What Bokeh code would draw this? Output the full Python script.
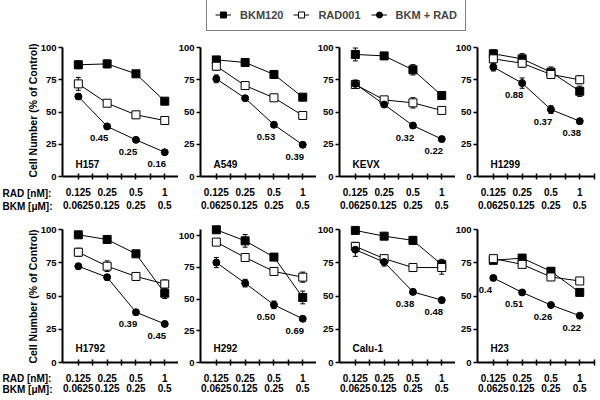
import math
from bokeh.plotting import figure
from bokeh.models import (ColumnDataSource, Range1d, LinearAxis, FixedTicker,
                          Whisker, TeeHead, Label, Legend, LegendItem)
from bokeh.layouts import column, row
from bokeh.embed import file_html
from bokeh.resources import INLINE
from bokeh.core.properties import value

# ---------------- data ----------------
cell_lines = ["H157", "A549", "KEVX", "H1299", "H1792", "H292", "Calu-1", "H23"]
rad_doses = ["0.125", "0.25", "0.5", "1"]        # RAD001 [nM]
bkm_doses = ["0.0625", "0.125", "0.25", "0.5"]   # BKM120 [uM]

bkm120 = {
    "H157": [86.6, 87.3, 79.6, 58.4],
    "A549": [90.4, 88.4, 79.1, 61.5],
    "KEVX": [94.6, 93.5, 82.7, 62.8],
    "H1299": [95.1, 91.2, 80.9, 66.1],
    "H1792": [96.0, 92.5, 81.7, 52.1],
    "H292": [104.5, 95.8, 83.0, 51.2],
    "Calu-1": [99.3, 95.0, 91.8, 73.6],
    "H23": [76.8, 78.5, 68.6, 52.7],
}
bkm120_err = {
    "H157": [3, 3, 2, 2], "A549": [2, 2, 2, 2], "KEVX": [5, 2, 4, 3], "H1299": [3, 4, 4, 4],
    "H1792": [2, 2, 2, 4], "H292": [2, 5, 2, 5], "Calu-1": [2, 2, 3, 4], "H23": [2, 2, 2, 2],
}
rad001 = {
    "H157": [71.8, 56.8, 47.8, 43.4],
    "A549": [85.5, 70.5, 61.0, 47.3],
    "KEVX": [71.3, 59.4, 57.1, 51.2],
    "H1299": [91.2, 87.8, 79.1, 75.0],
    "H1792": [82.9, 72.4, 64.7, 59.0],
    "H292": [94.8, 82.7, 71.7, 67.2],
    "Calu-1": [87.3, 78.1, 71.4, 71.4],
    "H23": [78.1, 73.8, 64.3, 61.3],
}
rad001_err = {
    "H157": [5, 2, 2, 1], "A549": [3, 2, 2, 2], "KEVX": [3, 2, 4, 2], "H1299": [3, 3, 3, 3],
    "H1792": [3, 4, 2, 3], "H292": [2, 2, 2, 4], "Calu-1": [3, 2, 3, 5], "H23": [2, 2, 2, 2],
}
combo = {
    "H157": [62.0, 38.8, 28.4, 18.8],
    "A549": [75.7, 60.7, 40.1, 24.6],
    "KEVX": [71.8, 55.8, 39.5, 29.0],
    "H1299": [84.8, 72.4, 51.9, 42.9],
    "H1792": [72.4, 64.1, 37.8, 29.0],
    "H292": [78.7, 62.5, 45.4, 34.4],
    "Calu-1": [84.8, 75.5, 53.1, 46.9],
    "H23": [63.6, 52.7, 43.2, 35.2],
}
combo_err = {
    "H157": [2, 1, 1, 1], "A549": [3, 2, 2, 2], "KEVX": [3, 2, 2, 2], "H1299": [3, 4, 3, 2],
    "H1792": [2, 2, 2, 1], "H292": [4, 3, 3, 2], "Calu-1": [5, 3, 2, 2], "H23": [1, 1, 1, 1],
}
# combination index values shown next to the BKM + RAD points
ci = {
    "H157": ["", "0.45", "0.25", "0.16"],
    "A549": ["", "", "0.53", "0.39"],
    "KEVX": ["", "", "0.32", "0.22"],
    "H1299": ["", "0.88", "0.37", "0.38"],
    "H1792": ["", "", "0.39", "0.45"],
    "H292": ["", "", "0.50", "0.69"],
    "Calu-1": ["", "", "0.38", "0.48"],
    "H23": ["0.4", "0.51", "0.26", "0.22"],
}
y_ticks = [0, 25, 50, 75, 100]
axis_top = {"H292": 105}   # y axis line end (others 100)

series_names = ["BKM120", "RAD001", "BKM + RAD"]

# ---------------- layout / style ----------------
FONT = "Liberation Sans"
X0, X1 = -0.55, 3.5            # x axis extent in dose-index units
SX = 28.8                      # px per dose step
COL_LEFT = [0, 178, 316, 455]  # left edge of each column figure (px)
COL_W = [178, 138, 139, 145]
AXIS_X = [62, 200, 339, 477]   # y-axis position in page px
ROWS = [
    dict(h=181, zero=142, sy=1.29, sy_tall=1.29, s2=24, name_dy=12, lab_dy=(17, 30)),
    dict(h=185, zero=147, sy=1.33, sy_tall=1.27, s2=21, name_dy=14, lab_dy=(16, 27)),
]


def style_text_axis(ax, size="10px"):
    ax.major_label_text_font = FONT
    ax.major_label_text_font_style = "bold"
    ax.major_label_text_font_size = size
    ax.major_label_text_color = "black"


def make_panel(k, name):
    col = k % 4
    rw = ROWS[0] if k < 4 else ROWS[1]
    W, H = COL_W[col], rw["h"]
    left = AXIS_X[col] - COL_LEFT[col]
    b = H - rw["zero"]
    ytop = axis_top.get(name, 100)
    sy = rw["sy"] if ytop == 100 else rw["sy_tall"]
    x_start = X0 - left / SX
    y_start = -b / sy
    p = figure(width=W, height=H,
               x_range=Range1d(x_start, x_start + W / SX),
               y_range=Range1d(y_start, y_start + H / sy),
               x_axis_type=None, y_axis_type=None,
               output_backend="svg", toolbar_location=None, min_border=0)
    p.outline_line_color = None
    p.background_fill_color = "white"
    p.border_fill_color = "white"

    xs = list(range(len(rad_doses)))

    # x axis with RAD doses
    xa = LinearAxis(fixed_location=0, bounds=(X0, X1),
                    ticker=FixedTicker(ticks=xs, minor_ticks=[0.5, 1.5, 2.5, 3.5]),
                    major_label_overrides={i: s for i, s in zip(xs, rad_doses)})
    xa.axis_line_width = 2
    xa.major_tick_in = 3
    xa.major_tick_out = 3
    xa.minor_tick_in = 3
    xa.minor_tick_out = 3
    xa.major_tick_line_width = 1.5
    xa.minor_tick_line_width = 1.5
    xa.major_label_standoff = 8
    style_text_axis(xa)
    p.add_layout(xa, "below")

    # second row of labels with BKM doses
    xb = LinearAxis(fixed_location=0, bounds=(X0, X1),
                    ticker=FixedTicker(ticks=xs, minor_ticks=[]),
                    major_label_overrides={i: s for i, s in zip(xs, bkm_doses)})
    xb.axis_line_color = None
    xb.major_tick_line_color = None
    xb.minor_tick_line_color = None
    xb.major_tick_in = 0
    xb.major_tick_out = 0
    xb.minor_tick_in = 0
    xb.minor_tick_out = 0
    xb.major_label_standoff = rw["s2"]
    style_text_axis(xb)
    p.add_layout(xb, "below")

    ya = LinearAxis(fixed_location=X0, bounds=(0, ytop),
                    ticker=FixedTicker(ticks=y_ticks, minor_ticks=[]))
    ya.axis_line_width = 2
    ya.major_tick_in = 0
    ya.major_tick_out = 4
    ya.major_tick_line_width = 1.5
    ya.minor_tick_line_color = None
    ya.minor_tick_in = 0
    ya.minor_tick_out = 0
    ya.major_label_standoff = 2
    style_text_axis(ya, "9.5px")
    p.add_layout(ya, "left")

    specs = [
        (bkm120[name], bkm120_err[name], "square", 8, "black"),
        (rad001[name], rad001_err[name], "square", 8, "white"),
        (combo[name], combo_err[name], "circle", 7, "black"),
    ]
    for vals, errs, marker, size, fill in specs:
        src = ColumnDataSource(dict(
            x=xs, y=vals,
            upper=[v + e for v, e in zip(vals, errs)],
            lower=[v - e for v, e in zip(vals, errs)]))
        p.line("x", "y", source=src, line_color="black", line_width=1)
        p.add_layout(Whisker(source=src, base="x", upper="upper", lower="lower",
                             line_color="black", line_width=1,
                             upper_head=TeeHead(size=5, line_color="black", line_width=1),
                             lower_head=TeeHead(size=5, line_color="black", line_width=1)))
        p.scatter("x", "y", source=src, marker=marker, size=size,
                  fill_color=fill, line_color="black", line_width=1)

    ci_x = [x for x, c in zip(xs, ci[name]) if c]
    ci_y = [v for v, c in zip(combo[name], ci[name]) if c]
    ci_t = [c for c in ci[name] if c]
    p.text(x=ci_x, y=ci_y, text=ci_t, x_offset=-8, y_offset=12,
           text_align="center", text_baseline="middle",
           text_font=value(FONT), text_font_style="bold",
           text_font_size="9.5px", text_color="black")

    p.add_layout(Label(x=left + 13, y=b + rw["name_dy"], x_units="screen", y_units="screen",
                       text=name, text_align="left", text_baseline="middle",
                       text_font=FONT, text_font_style="bold",
                       text_font_size="10px", text_color="black"))

    if col == 0:
        p.add_layout(Label(x=32, y=b + 66, x_units="screen", y_units="screen",
                           text="Cell Number (% of Control)", angle=math.pi / 2,
                           text_align="center", text_baseline="middle",
                           text_font=FONT, text_font_style="bold",
                           text_font_size="10.5px", text_color="black"))
        for txt, dy in zip(("RAD [nM]:", "BKM [\u03bcM]:"), rw["lab_dy"]):
            p.add_layout(Label(x=2, y=b - dy, x_units="screen", y_units="screen", text=txt,
                               text_align="left", text_baseline="middle",
                               text_font=FONT, text_font_style="bold",
                               text_font_size="10px", text_color="black"))
    return p


panels = [make_panel(k, n) for k, n in enumerate(cell_lines)]

# ---------------- legend strip ----------------
lg = figure(width=600, height=34, x_range=Range1d(0, 1), y_range=Range1d(0, 1),
            x_axis_type=None, y_axis_type=None, output_backend="svg",
            toolbar_location=None, min_border=0)
lg.outline_line_color = None
items = []
for nm, marker, fill in zip(series_names, ["square", "square", "circle"], ["black", "white", "black"]):
    # proxy renderers (outside the visible range) that only supply the legend glyphs
    lr = lg.line(x=[5, 6], y=[5, 6], line_color="black", line_width=1)
    sr = lg.scatter(x=[5], y=[5], marker=marker, size=6, fill_color=fill, line_color="black")
    items.append(LegendItem(label=nm, renderers=[lr, sr]))
legend = Legend(items=items, orientation="horizontal", location=(206, 3),
                label_text_font=FONT, label_text_font_style="bold",
                label_text_font_size="11px", label_standoff=9,
                glyph_width=16, glyph_height=15, label_height=15,
                spacing=10, padding=8, margin=0,
                border_line_color="black", border_line_width=1.5,
                background_fill_color="white", background_fill_alpha=1)
lg.add_layout(legend)

layout = column(lg, row(*panels[:4]), row(*panels[4:]))

open("out.html", "w").write(file_html(layout, INLINE))
